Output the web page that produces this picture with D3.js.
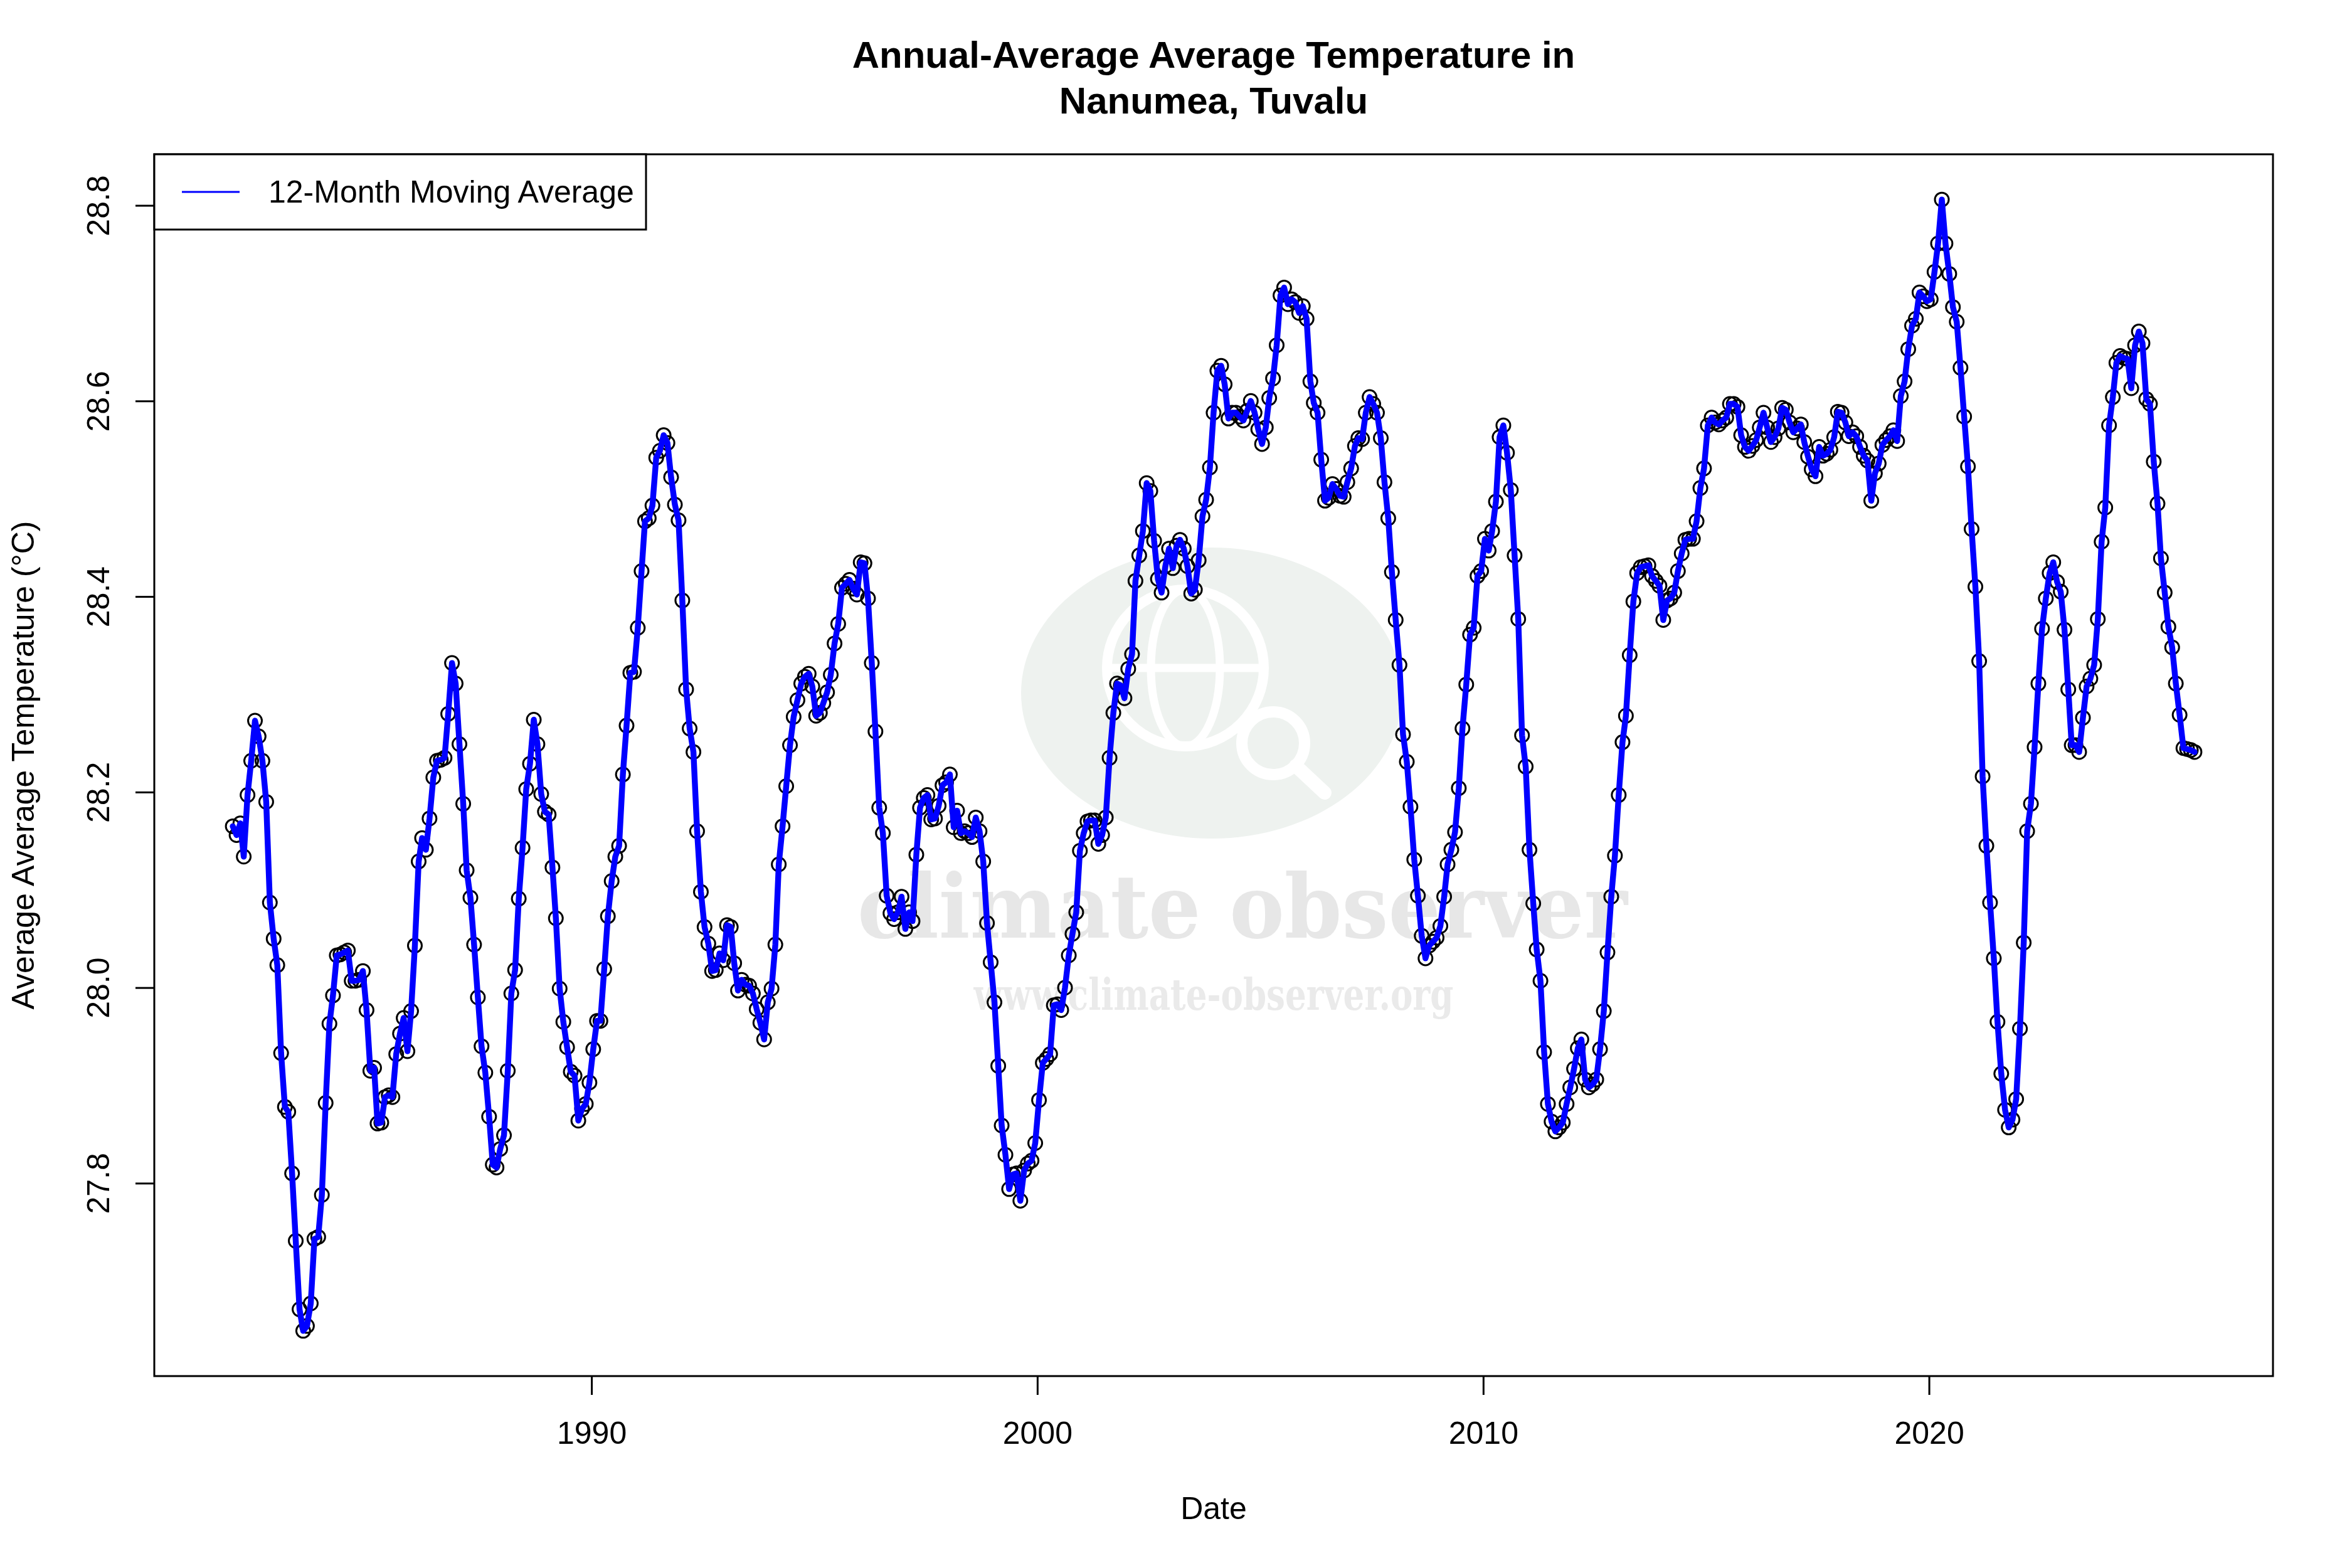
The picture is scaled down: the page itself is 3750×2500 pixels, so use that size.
<!DOCTYPE html>
<html>
<head>
<meta charset="utf-8">
<script src="https://cdn.jsdelivr.net/npm/d3@7"></script>
<style>
    html, body { margin: 0; padding: 0; background: #ffffff; }
    svg { display: block; font-family: "Liberation Sans", Arial, Helvetica, sans-serif; }
</style>
</head>
<body>
<svg id="chart" width="3750" height="2500"></svg>
<script>
// ---- data ----
// one point per month, first one is Dec 1981
var firstMonth = new Date(1981, 11, 15);

var temps = [
    28.165,                                                                                          // 1981 Dec
    28.156, 28.168, 28.134, 28.197, 28.232, 28.273, 28.257, 28.232, 28.190, 28.087, 28.050, 28.023, // 1982
    27.933, 27.878, 27.873, 27.810, 27.741, 27.671, 27.649, 27.654, 27.677, 27.743, 27.745, 27.788, // 1983
    27.882, 27.963, 27.992, 28.033, 28.034, 28.036, 28.038, 28.007, 28.007, 28.008, 28.017, 27.977, // 1984
    27.915, 27.918, 27.861, 27.862, 27.888, 27.890, 27.888, 27.932, 27.953, 27.969, 27.935, 27.976, // 1985
    28.043, 28.129, 28.153, 28.141, 28.173, 28.215, 28.232, 28.233, 28.235, 28.280, 28.332, 28.311, // 1986
    28.249, 28.188, 28.120, 28.092, 28.044, 27.990, 27.940, 27.913, 27.868, 27.819, 27.816, 27.835, // 1987
    27.849, 27.915, 27.994, 28.018, 28.091, 28.143, 28.203, 28.229, 28.274, 28.249, 28.198, 28.180, // 1988
    28.177, 28.123, 28.071, 27.999, 27.965, 27.939, 27.914, 27.910, 27.864, 27.876, 27.881, 27.903, // 1989
    27.937, 27.966, 27.966, 28.019, 28.073, 28.109, 28.134, 28.145, 28.218, 28.268, 28.322, 28.323, // 1990
    28.368, 28.426, 28.477, 28.480, 28.493, 28.542, 28.549, 28.565, 28.557, 28.522, 28.494, 28.478, // 1991
    28.396, 28.305, 28.265, 28.241, 28.160, 28.098, 28.062, 28.045, 28.017, 28.018, 28.035, 28.028, // 1992
    28.064, 28.062, 28.025, 27.997, 28.008, 28.003, 28.002, 27.994, 27.978, 27.964, 27.947, 27.985, // 1993
    27.999, 28.044, 28.126, 28.165, 28.206, 28.248, 28.277, 28.294, 28.311, 28.318, 28.321, 28.308, // 1994
    28.278, 28.281, 28.291, 28.302, 28.320, 28.352, 28.372, 28.409, 28.413, 28.417, 28.408, 28.402, // 1995
    28.435, 28.434, 28.398, 28.332, 28.262, 28.184, 28.158, 28.094, 28.076, 28.070, 28.077, 28.093, // 1996
    28.060, 28.077, 28.068, 28.136, 28.184, 28.194, 28.197, 28.172, 28.173, 28.186, 28.207, 28.210, // 1997
    28.218, 28.164, 28.181, 28.158, 28.160, 28.158, 28.154, 28.174, 28.160, 28.129, 28.066, 28.026, // 1998
    27.985, 27.920, 27.859, 27.829, 27.794, 27.809, 27.810, 27.782, 27.813, 27.820, 27.823, 27.841, // 1999
    27.885, 27.923, 27.927, 27.932, 27.982, 27.983, 27.977, 28.000, 28.033, 28.055, 28.077, 28.140, // 2000
    28.158, 28.170, 28.171, 28.171, 28.147, 28.156, 28.174, 28.235, 28.281, 28.311, 28.309, 28.296, // 2001
    28.326, 28.341, 28.416, 28.442, 28.467, 28.516, 28.508, 28.457, 28.418, 28.404, 28.431, 28.449, // 2002
    28.429, 28.452, 28.458, 28.449, 28.431, 28.403, 28.407, 28.437, 28.482, 28.499, 28.532, 28.588, // 2003
    28.631, 28.636, 28.617, 28.582, 28.588, 28.588, 28.584, 28.580, 28.590, 28.600, 28.588, 28.571, // 2004
    28.556, 28.573, 28.603, 28.623, 28.657, 28.708, 28.716, 28.699, 28.704, 28.701, 28.690, 28.697, // 2005
    28.684, 28.620, 28.598, 28.588, 28.540, 28.498, 28.501, 28.515, 28.510, 28.503, 28.502, 28.517, // 2006
    28.531, 28.554, 28.562, 28.561, 28.588, 28.604, 28.597, 28.588, 28.562, 28.517, 28.480, 28.425, // 2007
    28.376, 28.330, 28.259, 28.231, 28.185, 28.131, 28.094, 28.053, 28.030, 28.043, 28.047, 28.051, // 2008
    28.063, 28.093, 28.126, 28.141, 28.159, 28.204, 28.265, 28.310, 28.361, 28.368, 28.421, 28.426, // 2009
    28.459, 28.447, 28.467, 28.497, 28.563, 28.575, 28.547, 28.509, 28.442, 28.377, 28.258, 28.226, // 2010
    28.141, 28.086, 28.039, 28.007, 27.934, 27.881, 27.863, 27.853, 27.857, 27.862, 27.881, 27.898, // 2011
    27.917, 27.938, 27.947, 27.906, 27.898, 27.901, 27.906, 27.937, 27.976, 28.036, 28.093, 28.135, // 2012
    28.197, 28.251, 28.278, 28.340, 28.395, 28.424, 28.430, 28.431, 28.432, 28.421, 28.416, 28.411, // 2013
    28.376, 28.396, 28.398, 28.404, 28.426, 28.444, 28.458, 28.459, 28.459, 28.477, 28.511, 28.531, // 2014
    28.575, 28.583, 28.578, 28.576, 28.580, 28.583, 28.597, 28.597, 28.594, 28.565, 28.553, 28.549, // 2015
    28.554, 28.560, 28.573, 28.588, 28.573, 28.558, 28.563, 28.572, 28.593, 28.591, 28.578, 28.568, // 2016
    28.572, 28.576, 28.558, 28.543, 28.530, 28.523, 28.553, 28.544, 28.546, 28.550, 28.563, 28.589, // 2017
    28.588, 28.578, 28.564, 28.568, 28.564, 28.553, 28.544, 28.539, 28.498, 28.526, 28.536, 28.555, // 2018
    28.560, 28.564, 28.570, 28.559, 28.605, 28.620, 28.653, 28.677, 28.684, 28.711, 28.707, 28.702, // 2019
    28.704, 28.732, 28.761, 28.806, 28.761, 28.730, 28.696, 28.681, 28.634, 28.584, 28.533, 28.469, // 2020
    28.410, 28.334, 28.216, 28.145, 28.087, 28.030, 27.965, 27.912, 27.875, 27.857, 27.865, 27.886, // 2021
    27.958, 28.046, 28.160, 28.188, 28.246, 28.311, 28.367, 28.398, 28.424, 28.435, 28.415, 28.405, // 2022
    28.366, 28.305, 28.248, 28.248, 28.241, 28.276, 28.308, 28.316, 28.330, 28.377, 28.456, 28.491, // 2023
    28.575, 28.604, 28.639, 28.646, 28.644, 28.643, 28.613, 28.657, 28.671, 28.659, 28.602, 28.597, // 2024
    28.538, 28.495, 28.439, 28.404, 28.369, 28.348, 28.311, 28.279, 28.245, 28.244, 28.243, 28.241  // 2025
];

var yTicks = [27.8, 28.0, 28.2, 28.4, 28.6, 28.8];
var xTickYears = [1990, 2000, 2010, 2020];
var titleLines = ["Annual-Average Average Temperature in", "Nanumea, Tuvalu"];
var xTitle = "Date";
var yTitle = "Average Average Temperature (\u00B0C)";
var legendLabels = ["12-Month Moving Average"];
var watermarkLines = ["climate observer", "www.climate-observer.org"];

// ---- layout ----
var box = { left: 246, top: 246, right: 3624, bottom: 2194 };
var midX = (box.left + box.right) / 2;
var lineBlue = "#0000ff";
var markFont = "'DejaVu Serif', 'Liberation Serif', serif";

var svg = d3.select("#chart");

// R style: pad the data range by 4% on each side
function padRange(ext) {
    var d = ext[1] - ext[0];
    return [ext[0] - 0.04 * d, ext[1] + 0.04 * d];
}

var dates = temps.map(function (d, i) { return d3.timeMonth.offset(firstMonth, i); });

var tPad = padRange(d3.extent(dates, function (d) { return +d; }));
var x = d3.scaleTime()
    .domain([new Date(tPad[0]), new Date(tPad[1])])
    .range([box.left, box.right]);

var y = d3.scaleLinear()
    .domain(padRange(d3.extent(temps)))
    .range([box.bottom, box.top]);

/** faint logo that sits behind the plot */
function drawWatermark() {
    var g = svg.append("g").attr("class", "watermark");
    g.append("ellipse")
        .attr("cx", 1932).attr("cy", 1105)
        .attr("rx", 304).attr("ry", 232)
        .attr("fill", "#eef2ef");
    // globe
    g.append("circle")
        .attr("cx", 1890).attr("cy", 1065).attr("r", 125)
        .attr("fill", "none").attr("stroke", "#ffffff").attr("stroke-width", 16);
    g.append("ellipse")
        .attr("cx", 1890).attr("cy", 1065).attr("rx", 55).attr("ry", 125)
        .attr("fill", "none").attr("stroke", "#ffffff").attr("stroke-width", 13);
    g.append("line")
        .attr("x1", 1765).attr("x2", 2015).attr("y1", 1065).attr("y2", 1065)
        .attr("stroke", "#ffffff").attr("stroke-width", 13);
    // magnifier
    g.append("circle")
        .attr("cx", 2030).attr("cy", 1185).attr("r", 50)
        .attr("fill", "#eef2ef").attr("stroke", "#ffffff").attr("stroke-width", 18);
    g.append("line")
        .attr("x1", 2066).attr("y1", 1221).attr("x2", 2112).attr("y2", 1264)
        .attr("stroke", "#ffffff").attr("stroke-width", 22).attr("stroke-linecap", "round");

    g.append("text")
        .attr("x", 1981).attr("y", 1495)
        .attr("text-anchor", "middle")
        .attr("textLength", 1228).attr("lengthAdjust", "spacingAndGlyphs")
        .style("font-family", markFont)
        .style("font-weight", "bold").style("font-size", "140px")
        .style("fill", "#e7e7e7")
        .text(watermarkLines[0]);
    g.append("text")
        .attr("x", 1935).attr("y", 1610)
        .attr("text-anchor", "middle")
        .attr("textLength", 765).attr("lengthAdjust", "spacingAndGlyphs")
        .style("font-family", markFont)
        .style("font-weight", "bold").style("font-size", "70px")
        .style("fill", "#eaeaea")
        .text(watermarkLines[1]);
}

drawWatermark();

// points first, the blue line goes over them
svg.append("g").attr("class", "points")
    .selectAll("circle")
    .data(temps)
    .enter().append("circle")
    .attr("cx", function (d, i) { return x(dates[i]); })
    .attr("cy", function (d) { return y(d); })
    .attr("r", 11)
    .attr("fill", "none")
    .attr("stroke", "#000000")
    .attr("stroke-width", 3);

var line = d3.line()
    .x(function (d, i) { return x(dates[i]); })
    .y(function (d) { return y(d); });

svg.append("path")
    .datum(temps)
    .attr("d", line)
    .attr("fill", "none")
    .attr("stroke", lineBlue)
    .attr("stroke-width", 9.4)
    .attr("stroke-linejoin", "round")
    .attr("stroke-linecap", "round");

// axes
var xAxis = d3.axisBottom(x)
    .tickValues(xTickYears.map(function (yr) { return new Date(yr, 0, 1); }))
    .tickFormat(d3.timeFormat("%Y"))
    .tickSize(30)
    .tickPadding(42);

var gx = svg.append("g")
    .attr("transform", "translate(0," + box.bottom + ")")
    .call(xAxis);
gx.select(".domain").remove();
gx.selectAll("line").attr("stroke", "#000").attr("stroke-width", 3);
gx.selectAll("text")
    .style("font-family", "'Liberation Sans', Arial, sans-serif")
    .style("font-size", "50px").attr("fill", "#000");

var yAxis = d3.axisLeft(y)
    .tickValues(yTicks)
    .tickFormat(d3.format(".1f"))
    .tickSize(30);

var gy = svg.append("g")
    .attr("transform", "translate(" + box.left + ",0)")
    .call(yAxis);
gy.select(".domain").remove();
gy.selectAll("line").attr("stroke", "#000").attr("stroke-width", 3);
gy.selectAll("text")
    .attr("transform", "rotate(-90)")
    .attr("x", 0).attr("y", -72).attr("dy", 0)
    .style("text-anchor", "middle")
    .style("font-family", "'Liberation Sans', Arial, sans-serif")
    .style("font-size", "50px").attr("fill", "#000");

// plot frame
svg.append("rect")
    .attr("x", box.left).attr("y", box.top)
    .attr("width", box.right - box.left).attr("height", box.bottom - box.top)
    .attr("fill", "none").attr("stroke", "#000").attr("stroke-width", 3);

// titles
svg.selectAll("text.title")
    .data(titleLines)
    .enter().append("text")
    .attr("class", "title")
    .attr("x", midX)
    .attr("y", function (d, i) { return 108 + i * 73; })
    .attr("text-anchor", "middle")
    .style("font-weight", "bold").style("font-size", "60px")
    .text(function (d) { return d; });

svg.append("text")
    .attr("x", midX).attr("y", 2422)
    .attr("text-anchor", "middle")
    .style("font-size", "50px")
    .text(xTitle);

svg.append("text")
    .attr("transform", "translate(54," + ((box.top + box.bottom) / 2) + ") rotate(-90)")
    .attr("text-anchor", "middle")
    .style("font-size", "50px")
    .text(yTitle);

// legend, top left corner of the plot
var legend = svg.append("g").attr("class", "legend");
legend.append("rect")
    .attr("x", box.left).attr("y", box.top)
    .attr("width", 784).attr("height", 120)
    .attr("fill", "#ffffff").attr("stroke", "#000").attr("stroke-width", 3);
legend.append("line")
    .attr("x1", 290).attr("x2", 382).attr("y1", 306).attr("y2", 306)
    .attr("stroke", lineBlue).attr("stroke-width", 3.1);
legend.append("text")
    .attr("x", 428).attr("y", 323)
    .style("font-size", "50px")
    .text(legendLabels[0]);
</script>
</body>
</html>
